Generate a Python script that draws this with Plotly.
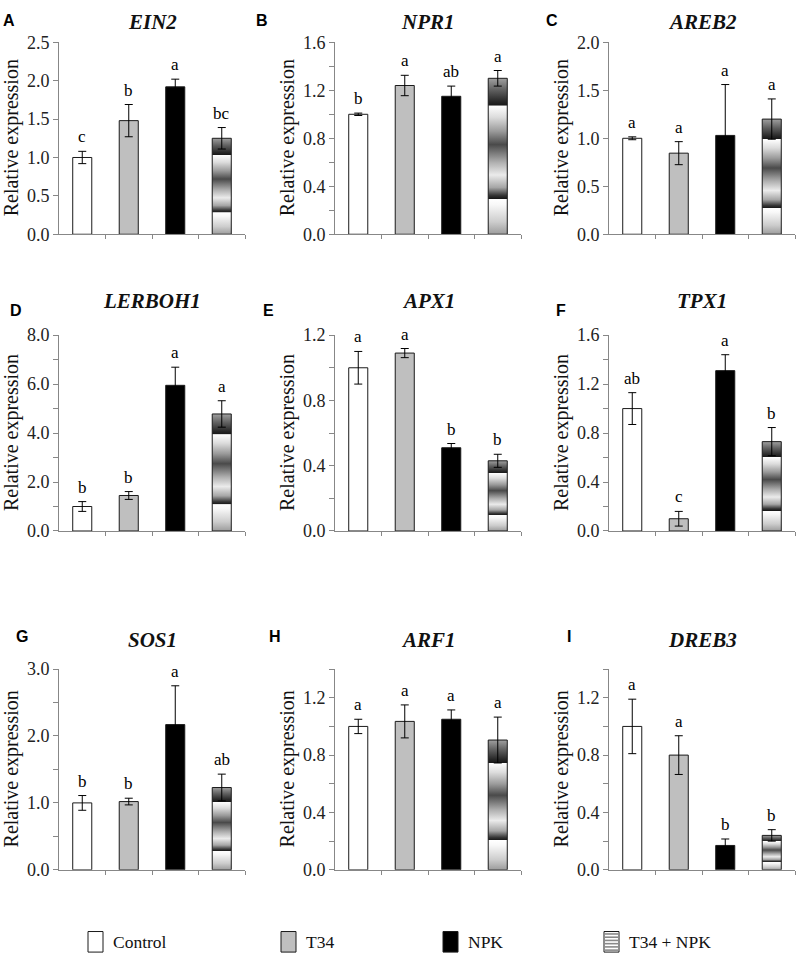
import plotly.graph_objects as go

W, H = 796, 966

# ---------------- data ----------------
categories = ["Control", "T34", "NPK", "T34 + NPK"]
genes = ["EIN2", "NPR1", "AREB2", "LERBOH1", "APX1", "TPX1", "SOS1", "ARF1", "DREB3"]
panel_labels = ["A", "B", "C", "D", "E", "F", "G", "H", "I"]

ein2_mean = [1.00, 1.48, 1.92, 1.25]
ein2_sd = [0.08, 0.21, 0.10, 0.14]
ein2_sig = ["c", "b", "a", "bc"]

npr1_mean = [1.00, 1.24, 1.15, 1.30]
npr1_sd = [0.01, 0.085, 0.085, 0.065]
npr1_sig = ["b", "a", "ab", "a"]

areb2_mean = [1.00, 0.845, 1.03, 1.20]
areb2_sd = [0.015, 0.12, 0.53, 0.21]
areb2_sig = ["a", "a", "a", "a"]

lerboh1_mean = [1.00, 1.45, 5.95, 4.78]
lerboh1_sd = [0.20, 0.16, 0.74, 0.54]
lerboh1_sig = ["b", "b", "a", "a"]

apx1_mean = [1.00, 1.09, 0.51, 0.43]
apx1_sd = [0.10, 0.028, 0.026, 0.04]
apx1_sig = ["a", "a", "b", "b"]

tpx1_mean = [1.00, 0.10, 1.31, 0.73]
tpx1_sd = [0.13, 0.06, 0.13, 0.115]
tpx1_sig = ["ab", "c", "a", "b"]

sos1_mean = [1.00, 1.02, 2.17, 1.23]
sos1_sd = [0.11, 0.05, 0.58, 0.20]
sos1_sig = ["b", "b", "a", "ab"]

arf1_mean = [1.00, 1.035, 1.05, 0.905]
arf1_sd = [0.05, 0.115, 0.065, 0.16]
arf1_sig = ["a", "a", "a", "a"]

dreb3_mean = [1.00, 0.80, 0.17, 0.24]
dreb3_sd = [0.19, 0.135, 0.045, 0.04]
dreb3_sig = ["a", "a", "b", "b"]

y_max = [2.5, 1.6, 2.0, 8.0, 1.2, 1.6, 3.0, 1.4, 1.4]
y_major = [0.5, 0.4, 0.5, 2.0, 0.4, 0.4, 1.0, 0.4, 0.4]
y_minor = [None, 0.2, None, 1.0, 0.2, 0.2, 0.5, 0.2, 0.2]

means = [ein2_mean, npr1_mean, areb2_mean, lerboh1_mean, apx1_mean,
         tpx1_mean, sos1_mean, arf1_mean, dreb3_mean]
sds = [ein2_sd, npr1_sd, areb2_sd, lerboh1_sd, apx1_sd,
       tpx1_sd, sos1_sd, arf1_sd, dreb3_sd]
sigs = [ein2_sig, npr1_sig, areb2_sig, lerboh1_sig, apx1_sig,
        tpx1_sig, sos1_sig, arf1_sig, dreb3_sig]

# ---------------- style ----------------
AX = "#878787"
EDGE = "#1a1a1a"
SERIF = "Liberation Serif"
SANS = "Liberation Sans"
BAR_W = 0.41
solid_colors = ["#ffffff", "#bfbfbf", "#000000"]
GRAD = [
    [0.000, "#9c9c9c"], [0.080, "#cdcdcd"], [0.190, "#f8f8f8"], [0.226, "#ffffff"],
    [0.229, "#181818"], [0.250, "#363636"], [0.300, "#a6a6a6"], [0.380, "#ebebeb"],
    [0.460, "#b0b0b0"], [0.575, "#4a4a4a"], [0.660, "#9a9a9a"], [0.750, "#dcdcdc"],
    [0.824, "#ffffff"], [0.827, "#181818"], [0.850, "#262626"], [0.920, "#5c5c5c"],
    [1.000, "#a0a0a0"],
]

col_x = [(59, 245), (335, 521), (609, 795)]
row_y = [(33, 229), (332, 532), (673, 878)]
title_y = [12.5, 297, 643]
label_y = [11, 307, 640]
label_x = [[9, 262, 552], [16, 268, 561], [22, 275, 569]]


def px(x):
    return x / W


def py(y):
    return 1 - y / H


fig = go.Figure()
annotations = []
shapes = []
layout = {}

for k in range(9):
    r, c = divmod(k, 3)
    n = k + 1
    xa = "x" if n == 1 else f"x{n}"
    ya = "y" if n == 1 else f"y{n}"
    mean, sd, sig = means[k], sds[k], sigs[k]
    idx = list(range(len(categories)))

    # solid bars: Control, T34, NPK
    fig.add_trace(go.Bar(
        x=idx[:3], y=mean[:3], width=BAR_W,
        marker=dict(color=solid_colors, line=dict(color=EDGE, width=1)),
        error_y=dict(type="data", array=sd[:3], color="#000000", thickness=1, width=4),
        xaxis=xa, yaxis=ya, showlegend=False, hoverinfo="skip"))

    # gradient-filled bar: T34 + NPK
    i4 = idx[3]
    v4 = mean[3]
    hw = BAR_W / 2
    fig.add_trace(go.Scatter(
        x=[i4 - hw, i4 + hw, i4 + hw, i4 - hw, i4 - hw],
        y=[0, 0, v4, v4, 0],
        fill="toself", mode="lines",
        fillgradient=dict(type="vertical", colorscale=GRAD),
        line=dict(color=EDGE, width=1),
        xaxis=xa, yaxis=ya, showlegend=False, hoverinfo="skip"))
    fig.add_trace(go.Scatter(
        x=[i4], y=[v4], mode="markers",
        marker=dict(size=1, color="rgba(0,0,0,0)"),
        error_y=dict(type="data", array=[sd[3]], color="#000000", thickness=1, width=4),
        xaxis=xa, yaxis=ya, showlegend=False, hoverinfo="skip"))

    # significance letters
    for j in idx:
        annotations.append(dict(
            x=j, y=mean[j] + sd[j], xref=xa, yref=ya, text=sig[j],
            showarrow=False, yanchor="bottom", yshift=3,
            font=dict(family=SERIF, size=17, color="#000000")))

    x0, x1 = col_x[c]
    y0, y1 = row_y[r]
    layout["xaxis" if n == 1 else f"xaxis{n}"] = dict(
        domain=[px(x0), px(x1)], anchor=ya, range=[-0.5, 3.5],
        tickvals=[0.5, 1.5, 2.5, 3.5], ticks="outside", ticklen=4, tickcolor=AX,
        showticklabels=False, showline=True, linecolor=AX, linewidth=1,
        showgrid=False, zeroline=False, fixedrange=True)
    yax = dict(
        domain=[py(y1), py(y0)], anchor=xa, range=[0, y_max[k]],
        tick0=0, dtick=y_major[k], tickformat=".1f", ticks="outside", ticklen=5,
        tickcolor=AX, showline=True, linecolor=AX, linewidth=1,
        showgrid=False, zeroline=False, fixedrange=True,
        tickfont=dict(family=SERIF, size=18, color="#222222"))
    if y_minor[k]:
        yax["minor"] = dict(dtick=y_minor[k], tick0=0, ticks="outside", ticklen=5,
                            tickcolor=AX, showgrid=False)
    layout["yaxis" if n == 1 else f"yaxis{n}"] = yax

    # gene title
    annotations.append(dict(
        x=px((x0 + x1) / 2), y=py(title_y[r]), xref="paper", yref="paper",
        text=f"<b><i>{genes[k]}</i></b>", showarrow=False,
        xanchor="center", yanchor="middle",
        font=dict(family=SERIF, size=21, color="#111111")))
    # panel letter
    annotations.append(dict(
        x=px(label_x[r][c]), y=py(label_y[r]), xref="paper", yref="paper",
        text=f"<b>{panel_labels[k]}</b>", showarrow=False,
        xanchor="center", yanchor="middle",
        font=dict(family=SANS, size=16, color="#000000")))
    # y-axis title
    annotations.append(dict(
        x=px(x0 - 48), y=py((y0 + y1) / 2), xref="paper", yref="paper",
        text="Relative expression", showarrow=False, textangle=-90,
        xanchor="center", yanchor="middle",
        font=dict(family=SERIF, size=20, color="#111111")))

# ---------------- manual legend ----------------
leg_box_x = [88, 281, 443, 604]
leg_fill = ["#ffffff", "#bfbfbf", "#000000", "#ffffff"]
ly0, ly1 = 941, 962
bw = 15
for i, name in enumerate(categories):
    bx = leg_box_x[i]
    shapes.append(dict(type="rect", xref="paper", yref="paper",
                       x0=px(bx), x1=px(bx + bw), y0=py(ly1), y1=py(ly0),
                       fillcolor=leg_fill[i], line=dict(color=EDGE, width=1)))
    if i == 3:
        for s in range(6):
            yy = ly0 + 2.5 + s * 3.3
            shapes.append(dict(type="line", xref="paper", yref="paper",
                               x0=px(bx + 1), x1=px(bx + bw - 1), y0=py(yy), y1=py(yy),
                               line=dict(color="#8a8a8a", width=1.6)))
    annotations.append(dict(
        x=px(bx + bw + 8), y=py((ly0 + ly1) / 2), xref="paper", yref="paper",
        text=name, showarrow=False, xanchor="left", yanchor="middle",
        font=dict(family=SERIF, size=17.5, color="#111111")))

fig.update_layout(
    width=W, height=H, margin=dict(l=0, r=0, t=0, b=0),
    paper_bgcolor="#ffffff", plot_bgcolor="#ffffff",
    barmode="overlay", showlegend=False,
    annotations=annotations, shapes=shapes, **layout)

fig.write_html("out.html",
               config={"displayModeBar": False, "staticPlot": True},
               post_script="document.body.style.margin='0';document.body.style.overflow='hidden';")
